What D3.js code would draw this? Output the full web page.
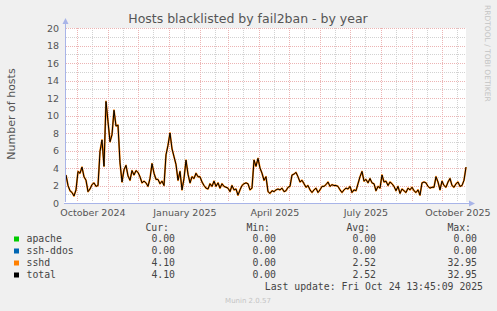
<!DOCTYPE html>
<html>
<head>
<meta charset="utf-8">
<script src="https://cdn.jsdelivr.net/npm/d3@7"></script>
<style>
  body { margin: 0; background: #f0f0f0; }
  svg { display: block; }
</style>
</head>
<body>
<script>
// sshd hosts, one value every 2 days from 2024-09-19 to 2025-10-24
const sshd = [
  3.2, 2.0, 1.4, 1.2, 0.8, 1.5, 3.6, 3.4, 4.1, 3.0, 2.6, 1.3, 1.6, 2.1, 2.3, 1.9, 2.0,
  5.9, 7.2, 4.2, 11.6, 9.3, 7.0, 7.8, 10.6, 8.8, 8.9, 4.6, 2.4, 3.8, 4.3, 3.1, 2.6,
  3.7, 3.2, 3.7, 3.5, 3.0, 2.3, 2.5, 2.3, 1.9, 2.8, 4.5, 3.4, 2.7, 2.7, 2.2, 2.5,
  2.0, 5.5, 6.6, 8.0, 6.2, 5.3, 4.4, 2.6, 3.6, 1.5, 2.8, 4.9, 3.3, 2.3, 3.0, 2.8,
  3.4, 3.0, 3.0, 2.4, 2.0, 1.7, 1.6, 2.2, 1.9, 2.5, 1.9, 2.3, 1.7, 2.2, 1.9, 1.8,
  1.7, 1.3, 2.0, 1.5, 1.6, 0.9, 1.5, 2.0, 2.2, 2.3, 2.2, 1.5, 1.7, 4.9, 4.2, 5.1,
  4.0, 3.4, 2.6, 3.0, 1.3, 1.1, 1.4, 1.3, 1.5, 1.6, 1.5, 1.7, 1.3, 1.4, 1.8, 1.9,
  3.2, 3.3, 3.5, 3.0, 2.4, 2.6, 2.2, 1.8, 2.0, 1.5, 1.2, 1.5, 1.7, 1.2, 1.5, 1.9,
  1.9, 2.1, 2.4, 1.9, 2.1, 2.0, 2.0, 1.9, 1.5, 1.2, 1.5, 1.7, 1.6, 1.9, 1.2, 1.5,
  1.4, 2.2, 3.0, 3.6, 2.5, 2.7, 2.3, 2.8, 2.3, 2.2, 1.4, 1.9, 1.7, 3.2, 2.4, 2.5,
  2.0, 2.4, 2.2, 1.9, 1.4, 1.9, 1.1, 1.6, 1.4, 1.2, 1.7, 1.5, 1.8, 1.4, 1.2, 1.5,
  0.9, 2.3, 2.4, 2.3, 1.9, 1.7, 1.8, 1.8, 3.0, 2.4, 1.5, 2.5, 2.0, 1.8, 2.4, 2.8,
  2.0, 1.8, 2.2, 2.4, 1.9, 2.0, 2.6, 4.1
];
const apache = sshd.map(() => 0);
const sshDdos = sshd.map(() => 0);
const total = sshd;

const yTicks = [0, 2, 4, 6, 8, 10, 12, 14, 16, 18, 20];
const xLabelDates = [new Date(2024, 9, 16), new Date(2025, 0, 16), new Date(2025, 3, 16),
                     new Date(2025, 6, 16), new Date(2025, 9, 16)];

const legendNames = ["apache", "ssh-ddos", "sshd", "total"];
const legendColors = ["#00cc00", "#0066b3", "#ff8000", "#000000"];
const legendCur = ["0.00", "0.00", "4.10", "4.10"];
const legendMin = ["0.00", "0.00", "0.00", "0.00"];
const legendAvg = ["0.00", "0.00", "2.52", "2.52"];
const legendMax = ["0.00", "0.00", "32.95", "32.95"];

const W = 497, H = 311;
const pLeft = 66, pRight = 466, pTop = 28, pBottom = 203;

const start = new Date(2024, 8, 19, 13, 45, 9);
const end = new Date(2025, 9, 24, 13, 45, 9);
const dates = sshd.map((d, i) => d3.timeDay.offset(start, i * 2));

const x = d3.scaleTime().domain([start, end]).range([pLeft, pRight]);
const y = d3.scaleLinear().domain([0, 20]).range([pBottom, pTop]);

const svg = d3.select("body").append("svg")
  .attr("width", W).attr("height", H)
  .style("font-family", "DejaVu Sans");

svg.append("rect").attr("width", W).attr("height", H).attr("fill", "#f0f0f0");
svg.append("rect")
  .attr("x", pLeft).attr("y", pTop)
  .attr("width", pRight - pLeft).attr("height", pBottom - pTop)
  .attr("fill", "#ffffff");

// grid: minor gray, major red, dotted
const grid = svg.append("g").attr("stroke-dasharray", "1,1").attr("shape-rendering", "crispEdges");
const minorY = d3.range(1, 20, 2);
grid.selectAll(".hminor").data(minorY).join("line")
  .attr("x1", pLeft).attr("x2", pRight)
  .attr("y1", d => Math.round(y(d)) + 0.5).attr("y2", d => Math.round(y(d)) + 0.5)
  .attr("stroke", "#d2d2d2");
const midMonths = d3.timeMonth.range(d3.timeMonth.floor(start), end).map(d => d3.timeDay.offset(d, 15))
  .filter(d => d > start && d < end);
grid.selectAll(".vminor").data(midMonths).join("line")
  .attr("x1", d => Math.round(x(d)) + 0.5).attr("x2", d => Math.round(x(d)) + 0.5)
  .attr("y1", pTop).attr("y2", pBottom)
  .attr("stroke", "#d2d2d2");
grid.selectAll(".hmajor").data(yTicks.slice(1)).join("line")
  .attr("x1", pLeft).attr("x2", pRight)
  .attr("y1", d => Math.round(y(d)) + 0.5).attr("y2", d => Math.round(y(d)) + 0.5)
  .attr("stroke", "#ecb4b4");
grid.selectAll(".vmajor").data(d3.timeMonth.range(start, end)).join("line")
  .attr("x1", d => Math.round(x(d)) + 0.5).attr("x2", d => Math.round(x(d)) + 0.5)
  .attr("y1", pTop).attr("y2", pBottom)
  .attr("stroke", "#ecb4b4");

// series
const line = d3.line().x((d, i) => x(dates[i])).y(d => y(d));
svg.append("path").datum(apache).attr("d", line).attr("fill", "none").attr("stroke", legendColors[0]);
svg.append("path").datum(sshDdos).attr("d", line).attr("fill", "none").attr("stroke", legendColors[1]);
svg.append("path").datum(sshd).attr("d", line).attr("fill", "none")
  .attr("stroke", legendColors[2]).attr("stroke-width", 1.8).attr("stroke-linejoin", "round");
svg.append("path").datum(total).attr("d", line).attr("fill", "none")
  .attr("stroke", legendColors[3]).attr("stroke-width", 1).attr("stroke-linejoin", "round");

// axes lines with arrows (drawn over the zero lines)
const axisColor = "#a8b4e8";
svg.append("line").attr("x1", pLeft - 0.5).attr("x2", pLeft - 0.5).attr("y1", pBottom + 1).attr("y2", 22)
  .attr("stroke", axisColor);
svg.append("path").attr("d", `M${pLeft - 3.5},24 L${pLeft - 0.5},18 L${pLeft + 2.5},24 Z`).attr("fill", axisColor);
svg.append("rect").attr("x", pLeft - 2).attr("y", pBottom - 1).attr("width", 471 - pLeft + 2).attr("height", 2)
  .attr("fill", "#ffffff");
svg.append("line").attr("x1", pLeft - 2).attr("x2", 471).attr("y1", pBottom + 0.5).attr("y2", pBottom + 0.5)
  .attr("stroke", axisColor);
svg.append("path").attr("d", `M469,${pBottom - 2.5} L475,${pBottom + 0.5} L469,${pBottom + 3.5} Z`).attr("fill", axisColor);

// tick labels
const yAxis = svg.append("g").attr("transform", `translate(${pLeft},0)`)
  .call(d3.axisLeft(y).tickValues(yTicks).tickSize(0).tickPadding(7));
yAxis.select(".domain").remove();
yAxis.selectAll("text").attr("font-size", 9.5).attr("fill", "#555").attr("font-family", "DejaVu Sans");

const xAxis = svg.append("g").attr("transform", `translate(0,${pBottom})`)
  .call(d3.axisBottom(x).tickValues(xLabelDates).tickSize(0).tickPadding(6).tickFormat(d3.timeFormat("%B %Y")));
xAxis.select(".domain").remove();
xAxis.selectAll("text").attr("font-size", 9.5).attr("fill", "#555").attr("font-family", "DejaVu Sans");

// title and labels
svg.append("text").attr("x", 248).attr("y", 23).attr("text-anchor", "middle")
  .attr("font-size", 12.5).attr("fill", "#555").text("Hosts blacklisted by fail2ban - by year");
svg.append("text").attr("transform", "translate(15,114) rotate(-90)").attr("text-anchor", "middle")
  .attr("font-size", 11).attr("fill", "#555").text("Number of hosts");
svg.append("text").attr("transform", "translate(485,5) rotate(90)")
  .attr("font-size", 7.5).attr("fill", "#c4c4c4").text("RRDTOOL / TOBI OETIKER");

// legend
const mono = "DejaVu Sans Mono";
const lg = svg.append("g").attr("font-family", mono).attr("font-size", 9.8).attr("fill", "#444");
const colRight = [175, 276, 376, 477];
["Cur:", "Min:", "Avg:", "Max:"].forEach((h, i) => {
  lg.append("text").attr("x", colRight[i] - 6).attr("y", 230.5).attr("text-anchor", "end").text(h);
});
const rowY = i => 241.5 + i * 12;
legendNames.forEach((name, i) => {
  lg.append("rect").attr("x", 14).attr("y", rowY(i) - 5).attr("width", 5).attr("height", 5)
    .attr("fill", legendColors[i]);
  lg.append("text").attr("x", 26.5).attr("y", rowY(i)).text(name);
  [legendCur, legendMin, legendAvg, legendMax].forEach((col, j) => {
    lg.append("text").attr("x", colRight[j]).attr("y", rowY(i)).attr("text-anchor", "end").text(col[i]);
  });
});
lg.append("text").attr("x", 483).attr("y", 289.5).attr("text-anchor", "end")
  .text("Last update: Fri Oct 24 13:45:09 2025");
svg.append("text").attr("x", 248).attr("y", 302.5).attr("text-anchor", "middle")
  .attr("font-size", 7).attr("fill", "#c4c4c4").text("Munin 2.0.57");
</script>
</body>
</html>
